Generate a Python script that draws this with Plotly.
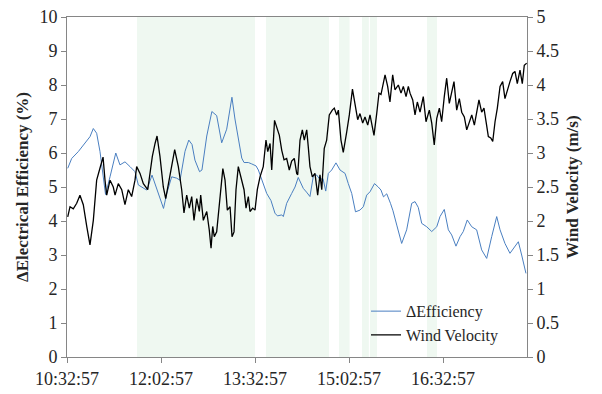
import pandas as pd
import plotly.graph_objects as go

START = pd.Timestamp("2000-01-01 10:32:57")

# ΔEfficiency (%) vs. minutes elapsed since 10:32:57
eff_min = [0.7, 4.5, 10.8, 17.2, 22.0, 25.2, 28.4, 31.6, 34.8, 36.9, 41.2, 46.7, 50.7, 55.5,
           60.3, 65.1, 68.3, 71.8, 76.3, 81.4, 84.3, 87.4, 92.4, 95.5, 100.2, 105.0, 108.2,
           113.0, 116.6, 119.7, 122.5, 126.9, 129.2, 133.8, 138.7, 143.3, 148.1, 152.9,
           157.9, 160.8, 163.7, 167.3, 169.5, 173.6, 176.8, 181.0, 183.2, 186.4, 191.2,
           195.3, 199.1, 201.5, 205.6, 207.1, 210.3, 215.1, 218.3, 221.4, 226.2, 229.3,
           232.6, 236.0, 239.1, 242.2, 245.1, 247.7, 250.2, 253.4, 257.5, 261.4, 266.2,
           269.3, 272.6, 276.2, 280.5, 283.7, 286.9, 290.1, 294.4, 298.0, 300.6, 303.0,
           306.1, 309.7, 312.1, 315.7, 320.4, 325.2, 330.0, 333.2, 336.3, 339.6, 344.4,
           349.2, 354.0, 357.1, 361.2, 365.1, 368.3, 372.4, 376.3, 379.4, 383.2, 387.5,
           392.2, 397.0, 401.8, 406.6, 411.4, 414.6, 419.3, 424.1, 427.3, 432.1, 435.3, 439.4]
eff_val = [5.55, 5.84, 6.04, 6.28, 6.48, 6.72, 6.58, 6.04, 5.20, 4.78, 5.30, 6.00, 5.65, 5.74,
           5.60, 5.45, 5.06, 5.00, 4.91, 5.35, 5.10, 4.80, 4.37, 4.81, 5.30, 5.26, 5.20,
           6.05, 6.38, 6.25, 5.79, 5.45, 5.50, 6.50, 7.22, 7.10, 6.30, 6.70, 7.64, 7.00,
           6.50, 5.85, 5.72, 5.72, 5.68, 5.62, 5.50, 5.20, 4.81, 4.60, 4.23, 4.15, 4.18,
           4.13, 4.52, 4.81, 5.00, 5.28, 4.96, 4.85, 4.72, 5.35, 5.35, 5.22, 5.25, 4.88,
           5.40, 5.50, 5.71, 5.50, 5.40, 5.10, 4.81, 4.27, 4.32, 4.42, 4.76, 4.86, 5.10,
           5.00, 4.91, 4.71, 4.80, 4.52, 4.30, 3.88, 3.34, 3.74, 4.52, 4.57, 4.40, 3.93,
           3.83, 3.69, 3.83, 4.13, 4.34, 3.74, 3.59, 3.26, 3.54, 3.69, 4.03, 3.83, 3.74,
           3.15, 2.90, 3.54, 4.13, 3.74, 3.34, 3.05, 3.20, 3.39, 3.00, 2.46]

# Wind velocity (m/s) vs. minutes elapsed since 10:32:57
wind_min = [0.7, 2.9, 6.0, 9.3, 12.4, 15.6, 18.9, 22.0, 25.2, 28.4, 31.6, 34.5, 36.4, 38.0,
            41.2, 44.3, 46.0, 49.1, 52.4, 55.5, 58.7, 61.9, 65.1, 66.7, 69.9, 73.1, 77.3,
            79.5, 81.7, 84.3, 86.2, 89.0, 92.2, 94.5, 98.6, 103.1, 106.6, 109.8, 112.0,
            114.6, 117.1, 119.4, 121.6, 124.2, 126.7, 128.0, 130.5, 133.8, 136.2, 137.9,
            139.5, 141.0, 143.3, 144.9, 146.5, 149.2, 151.3, 153.5, 156.1, 158.0, 159.9,
            161.8, 164.0, 167.3, 169.5, 171.4, 173.6, 175.2, 177.8, 180.0, 182.2, 184.8,
            187.9, 190.5, 192.2, 194.4, 196.0, 198.7, 200.8, 203.3, 205.6, 207.8, 210.3,
            212.8, 215.1, 217.6, 219.9, 220.9, 223.1, 225.3, 227.2, 229.5, 231.0, 232.6,
            234.9, 237.4, 240.0, 242.2, 243.9, 246.3, 248.6, 251.1, 254.0, 255.9, 258.2,
            259.8, 262.3, 264.5, 267.8, 270.3, 273.3, 275.7, 278.3, 280.5, 283.1, 285.3,
            287.9, 290.1, 292.3, 293.9, 296.5, 298.7, 300.6, 302.8, 304.5, 307.0, 309.2,
            311.8, 314.0, 317.2, 319.8, 322.0, 324.6, 326.8, 328.4, 331.0, 333.2, 335.4,
            338.0, 341.1, 343.7, 346.9, 349.2, 351.6, 354.0, 356.5, 358.7, 361.2, 363.5,
            366.0, 368.3, 370.5, 373.1, 375.6, 377.9, 380.4, 382.7, 385.2, 387.5, 390.0,
            392.2, 394.4, 397.0, 399.2, 401.2, 403.4, 405.7, 407.6, 409.8, 412.0, 414.6,
            417.1, 419.3, 421.6, 424.1, 426.7, 428.9, 431.1, 433.7, 435.9, 437.8, 440.1]
wind_val = [2.06, 2.21, 2.18, 2.26, 2.38, 2.24, 1.92, 1.65, 2.01, 2.60, 2.78, 2.94, 2.60, 2.38,
            2.60, 2.50, 2.38, 2.55, 2.46, 2.24, 2.46, 2.36, 2.60, 2.80, 2.70, 2.55, 2.46,
            2.75, 2.95, 3.14, 3.25, 2.95, 2.50, 2.33, 2.65, 3.05, 2.80, 2.46, 2.12,
            2.38, 2.19, 2.36, 2.01, 2.33, 2.14, 2.38, 2.01, 2.14, 1.87, 1.60,
            1.92, 1.77, 1.84, 2.11, 2.36, 2.77, 2.60, 2.16, 2.21, 1.77, 1.84,
            2.46, 2.80, 2.60, 2.46, 2.19, 2.36, 2.14, 2.19, 2.16, 2.46, 2.65,
            2.80, 3.19, 3.02, 3.14, 2.75, 3.48, 3.39, 3.26, 3.04, 2.90, 2.92,
            2.75, 2.88, 2.92, 2.70, 2.68, 3.19, 3.34, 3.19, 3.34, 3.09, 2.80,
            2.65, 2.70, 2.38, 2.68, 2.46, 3.07, 3.19, 3.56, 3.63, 3.66, 3.56,
            3.63, 3.19, 3.01, 3.31, 3.56, 3.94, 3.71, 3.49, 3.58, 3.44, 3.53,
            3.41, 3.56, 3.39, 3.26, 3.58, 3.88, 3.86, 4.02, 4.15, 3.98, 3.75,
            4.15, 3.93, 4.00, 3.88, 3.98, 3.83, 3.98, 3.88, 3.78, 3.56, 3.75,
            3.60, 3.83, 3.46, 3.63, 3.44, 3.12, 3.51, 3.66, 3.46, 3.83, 4.10,
            3.73, 3.88, 4.05, 3.63, 3.80, 3.60, 3.53, 3.34, 3.46, 3.56, 3.41,
            3.58, 3.78, 3.60, 3.66, 3.46, 3.24, 3.22, 3.17, 3.46, 3.66, 3.98,
            4.05, 3.80, 3.93, 4.05, 4.17, 4.20, 4.02, 4.22, 4.02, 4.29, 4.32]

# Shaded time windows (start, end) in minutes elapsed
shade_start = [67.0, 190.5, 260.4, 282.4, 290.1, 344.7]
shade_end = [180.0, 250.8, 270.5, 289.0, 296.8, 354.2]

x_end_min = 440.4
tick_labels = ["10:32:57", "12:02:57", "13:32:57", "15:02:57", "16:32:57"]


def to_time(minutes):
    return [START + pd.Timedelta(minutes=m) for m in minutes]


FONT = "Times New Roman, Liberation Serif, DejaVu Serif, serif"
AXIS_COLOR = "#868686"
TEXT_COLOR = "#262626"

fig = go.Figure()

for s, e in zip(shade_start, shade_end):
    fig.add_vrect(x0=START + pd.Timedelta(minutes=s), x1=START + pd.Timedelta(minutes=e),
                  fillcolor="#eff8f1", line_width=0, layer="below")

fig.add_trace(go.Scatter(x=to_time(eff_min), y=eff_val, mode="lines",
                         name="ΔEfficiency", line=dict(color="#4a7fc1", width=1)))
fig.add_trace(go.Scatter(x=to_time(wind_min), y=wind_val, mode="lines",
                         name="Wind Velocity", line=dict(color="#000000", width=1.3),
                         yaxis="y2"))

tick_vals = [START + pd.Timedelta(minutes=90 * i) for i in range(len(tick_labels))]

fig.update_layout(
    width=602, height=394,
    margin=dict(l=67, r=75, t=17, b=37, autoexpand=False),
    paper_bgcolor="white", plot_bgcolor="white",
    font=dict(family=FONT, size=18, color=TEXT_COLOR),
    showlegend=True,
    legend=dict(x=0.65, y=0.014, xanchor="left", yanchor="bottom",
                bgcolor="rgba(0,0,0,0)", font=dict(family=FONT, size=16, color=TEXT_COLOR),
                itemwidth=30, tracegroupgap=0),
    xaxis=dict(type="date", range=[START, START + pd.Timedelta(minutes=x_end_min)],
               tickmode="array", tickvals=tick_vals, ticktext=tick_labels,
               showgrid=False, showline=True, linecolor=AXIS_COLOR, linewidth=1,
               mirror=True, ticks="outside", ticklen=5, tickcolor=AXIS_COLOR,
               zeroline=False, automargin=False,
               tickfont=dict(family=FONT, size=18, color=TEXT_COLOR)),
    yaxis=dict(range=[0, 10], dtick=1, showgrid=False, showline=True,
               linecolor=AXIS_COLOR, linewidth=1, ticks="outside", ticklen=5,
               tickcolor=AXIS_COLOR, zeroline=False, automargin=False,
               tickfont=dict(family=FONT, size=18, color=TEXT_COLOR),
               title=dict(text="<b>ΔElectrical Efficiency (%)</b>", standoff=6,
                          font=dict(family=FONT, size=17, color=TEXT_COLOR))),
    yaxis2=dict(range=[0, 5], dtick=0.5, overlaying="y", side="right",
                showgrid=False, showline=True, linecolor=AXIS_COLOR, linewidth=1,
                ticks="outside", ticklen=5, tickcolor=AXIS_COLOR, zeroline=False,
                automargin=False,
                tickfont=dict(family=FONT, size=18, color=TEXT_COLOR),
                title=dict(text="<b>Wind Velocity (m/s)</b>", standoff=8,
                           font=dict(family=FONT, size=17, color=TEXT_COLOR))),
)

fig.write_html("out.html")
